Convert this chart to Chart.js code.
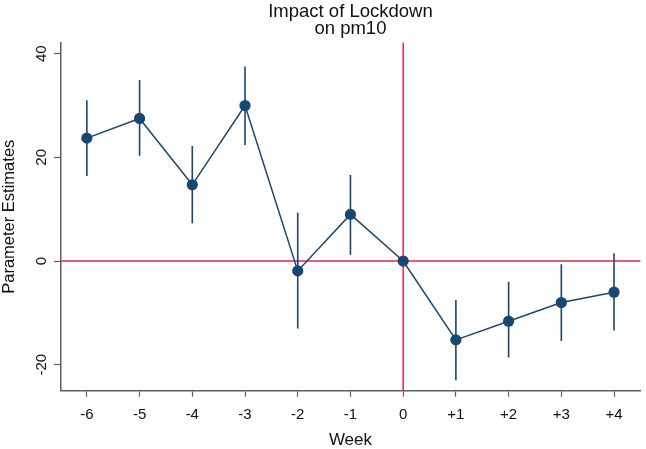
<html>
<head>
<script src="https://cdn.jsdelivr.net/npm/chart.js@4.4.0/dist/chart.umd.min.js"></script>
<style>
  body { margin: 0; background: #fff; }
</style>
</head>
<body>
<canvas id="chart" width="646" height="449"></canvas>

<script>
  // data
  var weeks = [-6, -5, -4, -3, -2, -1, 0, 1, 2, 3, 4];
  var weekLabels = ['-6', '-5', '-4', '-3', '-2', '-1', '0', '+1', '+2', '+3', '+4'];
  var estimates = [23.7, 27.5, 14.7, 30.0, -1.9, 9.0, 0, -15.2, -11.6, -8.0, -6.0];
  var ciLow = [16.4, 20.3, 7.3, 22.4, -13.0, 1.2, 0, -23.0, -18.6, -15.4, -13.4];
  var ciHigh = [31.0, 34.9, 22.2, 37.5, 9.3, 16.6, 0, -7.5, -4.0, -0.6, 1.5];
  var yTicks = [-20, 0, 20, 40];

  var navy = '#1a476f';
  var red = '#e3264f';
  var axisGray = '#5f5f5f';
  var font = "'Liberation Sans', Arial, sans-serif";

  var points = weeks.map(function (w, i) { return { x: w, y: estimates[i] }; });

  // red reference lines and the confidence bars
  var refLines = {
    id: 'refLines',
    beforeDatasetsDraw: function (chart) {
      var ctx = chart.ctx;
      var xs = chart.scales.x, ys = chart.scales.y, area = chart.chartArea;
      ctx.save();
      ctx.strokeStyle = red;
      ctx.lineWidth = 1.5;
      ctx.beginPath();
      var x0 = xs.getPixelForValue(0);
      ctx.moveTo(x0, area.top);
      ctx.lineTo(x0, area.bottom);
      var y0 = ys.getPixelForValue(0);
      ctx.moveTo(area.left, y0);
      ctx.lineTo(area.right, y0);
      ctx.stroke();

      ctx.strokeStyle = navy;
      ctx.lineWidth = 1.6;
      ctx.beginPath();
      weeks.forEach(function (w, i) {
        if (ciLow[i] === ciHigh[i]) return;
        var px = xs.getPixelForValue(w);
        ctx.moveTo(px, ys.getPixelForValue(ciLow[i]));
        ctx.lineTo(px, ys.getPixelForValue(ciHigh[i]));
      });
      ctx.stroke();
      ctx.restore();
    }
  };

  // stata style vertical y tick labels
  var yLabels = {
    id: 'yLabels',
    afterDraw: function (chart) {
      var ctx = chart.ctx;
      var ys = chart.scales.y;
      ctx.save();
      ctx.fillStyle = '#111';
      ctx.font = '15px ' + font;
      ctx.textAlign = 'center';
      ctx.textBaseline = 'middle';
      yTicks.forEach(function (v) {
        ctx.save();
        ctx.translate(41.5, ys.getPixelForValue(v));
        ctx.rotate(-Math.PI / 2);
        ctx.fillText(String(v), 0, 0);
        ctx.restore();
      });
      ctx.restore();
    }
  };

  var chart = new Chart(document.getElementById('chart'), {
    type: 'scatter',
    data: {
      datasets: [{
        data: points,
        showLine: true,
        borderColor: navy,
        borderWidth: 1.5,
        backgroundColor: navy,
        pointBackgroundColor: navy,
        pointBorderWidth: 0,
        pointRadius: 5.6,
        tension: 0
      }]
    },
    options: {
      responsive: false,
      animation: false,
      devicePixelRatio: 1,
      layout: { padding: { left: 0, right: 5, top: 0, bottom: 0 } },
      plugins: {
        legend: { display: false },
        tooltip: { enabled: false },
        title: {
          display: true,
          fullSize: false,
          text: ['Impact of Lockdown', 'on pm10'],
          color: '#111',
          font: { family: font, size: 18.5, weight: 'normal', lineHeight: 0.92 },
          padding: { top: 3, bottom: 5.7 }
        }
      },
      scales: {
        x: {
          type: 'linear',
          min: -6.5,
          max: 4.5,
          afterBuildTicks: function (scale) {
            scale.ticks = weeks.map(function (w) { return { value: w }; });
          },
          afterFit: function (scale) { scale.height = 58.3; },
          grid: { drawOnChartArea: false, drawTicks: true, tickLength: 6, tickColor: axisGray, tickWidth: 1.2 },
          border: { display: true, color: axisGray, width: 1.5 },
          ticks: {
            padding: 9,
            color: '#111',
            font: { family: font, size: 15 },
            maxRotation: 0,
            callback: function (v) { return weekLabels[weeks.indexOf(v)]; }
          },
          title: {
            display: true,
            text: 'Week',
            color: '#111',
            padding: 0,
            font: { family: font, size: 17, lineHeight: 1 }
          }
        },
        y: {
          type: 'linear',
          min: -25.0,
          max: 42.1,
          afterBuildTicks: function (scale) {
            scale.ticks = yTicks.map(function (v) { return { value: v }; });
          },
          afterFit: function (scale) { scale.width = 60.5; },
          grid: { drawOnChartArea: false, drawTicks: true, tickLength: 6.5, tickColor: axisGray, tickWidth: 1.2 },
          border: { display: true, color: axisGray, width: 1.5 },
          ticks: { display: false },
          title: {
            display: true,
            text: 'Parameter Estimates',
            color: '#111',
            padding: 0,
            font: { family: font, size: 16.5, lineHeight: 1.2 }
          }
        }
      }
    },
    plugins: [refLines, yLabels]
  });
</script>
</body>
</html>
